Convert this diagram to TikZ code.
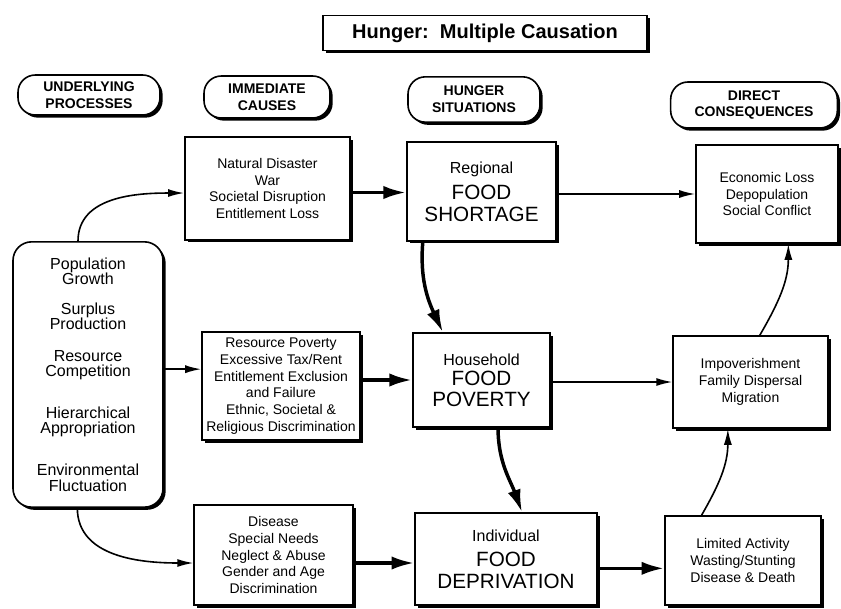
\documentclass[tikz,border=0pt]{standalone}
\usepackage{fontspec}
\setmainfont{Liberation Sans}
\usepackage{tikz}
\usetikzlibrary{arrows.meta, shadows}
\newcommand{\foodfont}{\fontsize{15.5pt}{16pt}\selectfont}

\begin{document}
\begin{tikzpicture}[
    x=0.75pt, y=0.75pt,
    shadowed/.style={
        draw=black,
        line width=1.2pt,
        fill=white,
        inner sep=2pt,
        align=center,
        drop shadow={shadow xshift=2pt, shadow yshift=-2pt, fill=black, opacity=1}
    },
    titlebox/.style={
        shadowed,
        rectangle,
        font=\fontsize{15pt}{17pt}\selectfont\bfseries
    },
    heading/.style={
        shadowed,
        rectangle,
        rounded corners=13pt,
        font=\fontsize{10.5pt}{12.5pt}\selectfont\bfseries
    },
    process/.style={
        shadowed,
        rectangle,
        rounded corners=14pt,
        font=\fontsize{12pt}{11.5pt}\selectfont
    },
    cause/.style={
        shadowed,
        rectangle,
        font=\fontsize{10.5pt}{12.5pt}\selectfont
    },
    situation/.style={
        shadowed,
        rectangle,
        font=\fontsize{12pt}{16pt}\selectfont
    },
    link/.style={-{Latex[length=12pt, width=6pt]}, line width=1.2pt},
    strong/.style={-{Latex[length=17pt, width=10pt]}, line width=2.6pt}
]
    \useasboundingbox (0,0) rectangle (841,-609);

    % Title and headings
    \node[titlebox, minimum width=243pt, minimum height=26pt] (title) at (485,-33) {Hunger:\ \ Multiple Causation};
    \node[heading, minimum width=106.5pt, minimum height=30pt] (hunder) at (89,-95) {UNDERLYING\\PROCESSES};
    \node[heading, minimum width=94.5pt, minimum height=31.5pt] (himm) at (267,-97) {IMMEDIATE\\CAUSES};
    \node[heading, minimum width=99pt, minimum height=34pt] (hsit) at (474,-99.5) {HUNGER\\SITUATIONS};
    \node[heading, minimum width=125pt, minimum height=34.5pt] (hcons) at (754,-105) {DIRECT\\CONSEQUENCES};

    % Underlying processes
    \node[process, minimum width=112.5pt, minimum height=199pt] (under) at (88,-374.5)
        {Population\\Growth\\[11pt]Surplus\\Production\\[12pt]Resource\\Competition\\[20pt]Hierarchical\\Appropriation\\[20pt]Environmental\\Fluctuation};

    % Immediate causes
    \node[cause, minimum width=124pt, minimum height=77pt] (natural) at (267.5,-188.5)
        {Natural Disaster\\War\\Societal Disruption\\Entitlement Loss};
    \node[cause, minimum width=118.5pt, minimum height=81pt] (resource) at (281,-386)
        {Resource Poverty\\Excessive Tax/Rent\\Entitlement Exclusion\\and Failure\\Ethnic, Societal \&\\Religious Discrimination};
    \node[cause, minimum width=119pt, minimum height=75pt] (disease) at (273.5,-555)
        {Disease\\Special Needs\\Neglect \& Abuse\\Gender and Age\\Discrimination};

    % Hunger situations
    \node[situation, minimum width=112pt, minimum height=74pt] (regional) at (481.5,-191.5)
        {Regional\\[4pt]\foodfont FOOD\\\foodfont SHORTAGE};
    \node[situation, minimum width=103pt, minimum height=70.5pt] (household) at (481.5,-380)
        {Household\\[-1pt]\foodfont FOOD\\\foodfont POVERTY};
    \node[situation, minimum width=136.5pt, minimum height=69pt] (individual) at (506,-559)
        {Individual\\[3pt]\foodfont FOOD\\[0.5pt]\foodfont DEPRIVATION};

    % Direct consequences
    \node[cause, minimum width=106.5pt, minimum height=73.5pt] (econ) at (767,-194)
        {Economic Loss\\Depopulation\\Social Conflict};
    \node[cause, minimum width=116pt, minimum height=69pt] (impov) at (750.5,-382)
        {Impoverishment\\Family Dispersal\\Migration};
    \node[cause, minimum width=117pt, minimum height=67pt] (limited) at (743,-560.5)
        {Limited Activity\\Wasting/Stunting\\Disease \& Death};

    % Links
    \draw[link] ([xshift=-7.5pt]under.north) to[out=90, in=180] ([yshift=-3.4pt]natural.west);
    \draw[link] ([yshift=4pt]under.east) -- ([yshift=4pt]under.east -| resource.west);
    \draw[link] ([xshift=-8pt]under.south) to[out=-90, in=180] ([yshift=-6pt]disease.west);

    \draw[strong] ([yshift=-3pt]natural.east) -- ([yshift=-3pt]natural.east -| regional.west);
    \draw[strong] (resource.east |- household.west) -- (household.west);
    \draw[strong] ([yshift=-6pt]disease.east) -- ([yshift=-6pt]disease.east -| individual.west);

    \draw[strong] ([xshift=-44pt]regional.south) to[out=-95, in=115] ([xshift=-29pt]household.north);
    \draw[strong] ([xshift=12.4pt]household.south) to[out=-90, in=110] ([xshift=12pt]individual.north);

    \draw[link] (regional.east |- econ.west) -- (econ.west);
    \draw[link] (household.east |- impov.west) -- (impov.west);
    \draw[strong] ([yshift=-7pt]individual.east) -- ([yshift=-7pt]individual.east -| limited.west);

    \draw[link] ([xshift=-31pt]limited.north) to[out=60, in=-90] ([xshift=-17pt]impov.south);
    \draw[link] ([xshift=7pt]impov.north) to[out=60, in=-90] ([xshift=16pt]econ.south);

\end{tikzpicture}
\end{document}
